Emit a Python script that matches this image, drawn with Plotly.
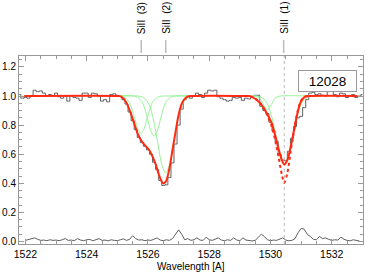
import numpy as np
import plotly.graph_objects as go

# ---------------- data ----------------
obs_start, obs_step = 1521.8, 0.1
obs_flux = [
    1.01, 0.985, 0.99, 0.985, 1.00, 1.04, 1.03, 1.035, 1.02, 1.00,
    1.01, 1.00, 1.02, 0.995, 0.985, 1.00, 0.965, 1.00, 0.99, 0.985,
    0.97, 1.02, 1.02, 0.99, 1.02, 1.015, 1.00, 0.965, 0.975, 0.96,
    1.01, 1.015, 1.005, 1.00, 0.975, 0.945, 0.89, 0.83, 0.77, 0.715,
    0.68, 0.655, 0.63, 0.60, 0.545, 0.495, 0.42, 0.385, 0.39, 0.44,
    0.54, 0.67, 0.80, 0.91, 0.975, 1.00, 0.985, 1.00, 1.02, 1.01,
    0.99, 1.02, 1.04, 1.035, 1.04, 0.995, 0.985, 0.975, 0.965, 0.97,
    0.99, 0.985, 0.99, 0.97, 0.985, 0.98, 0.99, 1.005, 1.005, 0.93,
    0.90, 0.88, 0.82, 0.76, 0.69, 0.60, 0.56, 0.555, 0.62, 0.71,
    0.79, 0.85, 0.86, 0.92, 0.975, 1.02, 1.025, 1.01, 1.015, 1.005,
    1.00, 1.03, 1.035, 1.01, 0.995, 1.02, 1.015, 0.99, 1.00, 1.01,
    0.99, 1.00, 1.01,
]

err_start, err_step = 1522.0, 0.1
err_flux = [
    0.008, 0.012, 0.02, 0.025, 0.015, 0.008, 0.01, 0.006, 0.012, 0.008,
    0.01, 0.006, 0.012, 0.02, 0.008, 0.01, 0.006, 0.02, 0.01, 0.006,
    0.012, 0.015, 0.005, 0.012, 0.02, 0.008, 0.01, 0.005, 0.012, 0.008,
    0.006, 0.012, 0.018, 0.008, 0.015, 0.04, 0.02, 0.01, 0.012, 0.006,
    0.01, 0.008, 0.015, 0.025, 0.01, 0.006, 0.012, 0.008, 0.02, 0.05,
    0.08, 0.05, 0.012, 0.02, 0.008, 0.012, 0.025, 0.01, 0.008, 0.03,
    0.012, 0.008, 0.015, 0.025, 0.01, 0.006, 0.012, 0.008, 0.025, 0.01,
    0.006, 0.025, 0.01, 0.005, 0.004, 0.008, 0.03, 0.05, 0.035, 0.012,
    0.006, 0.01, 0.008, 0.015, 0.025, 0.01, 0.005, 0.008, 0.02, 0.06,
    0.09, 0.085, 0.05, 0.035, 0.015, 0.012, 0.035, 0.02, 0.025, 0.015,
    0.008, 0.012, 0.01, 0.03, 0.015, 0.008, 0.005, 0.012, 0.006, 0.004,
]

fit_wave = [1521.96, 1525.00, 1525.11, 1525.28, 1525.44, 1525.55, 1525.66, 1525.77,
            1525.91, 1526.04, 1526.15, 1526.26, 1526.36, 1526.49, 1526.58, 1526.69,
            1526.80, 1526.91, 1527.00, 1527.12, 1527.29, 1527.45, 1529.20, 1529.33,
            1529.55, 1529.71, 1529.88, 1530.04, 1530.15, 1530.26, 1530.37, 1530.45,
            1530.55, 1530.66, 1530.77, 1530.88, 1530.99, 1531.13, 1531.30, 1532.84]
fit_flux = [1.0, 1.0, 0.998, 0.961, 0.881, 0.812, 0.743, 0.698,
            0.659, 0.629, 0.583, 0.526, 0.457, 0.400, 0.411, 0.491,
            0.629, 0.766, 0.870, 0.955, 0.995, 1.0, 1.0, 0.999,
            0.973, 0.938, 0.881, 0.812, 0.732, 0.640, 0.560, 0.530,
            0.560, 0.652, 0.766, 0.881, 0.961, 0.995, 1.0, 1.0]

alt_wave = [1529.33, 1529.55, 1529.71, 1529.88, 1530.04, 1530.15, 1530.26,
            1530.37, 1530.45, 1530.55, 1530.66, 1530.77, 1530.88, 1530.99, 1531.13, 1531.30]
alt_flux = [0.999, 0.975, 0.94, 0.875, 0.79, 0.70, 0.585,
            0.46, 0.404, 0.47, 0.62, 0.765, 0.89, 0.965, 0.996, 1.0]

compA_wave = [1525.03, 1525.17, 1525.37, 1525.47, 1525.57, 1525.67, 1525.77, 1525.87,
              1525.97, 1526.07, 1526.17, 1526.37, 1526.57, 1527.35]
compA_flux = [1.0, 0.997, 0.965, 0.916, 0.844, 0.773, 0.743, 0.773,
              0.844, 0.916, 0.965, 0.997, 1.0, 1.0]

compB_wave = [1525.03, 1525.60, 1525.80, 1525.90, 1526.00, 1526.10, 1526.20, 1526.30,
              1526.40, 1526.50, 1526.60, 1526.80, 1527.35]
compB_flux = [1.0, 0.997, 0.963, 0.911, 0.833, 0.757, 0.725, 0.757,
              0.833, 0.911, 0.963, 0.997, 1.0]

compC_wave = [1525.03, 1525.67, 1525.80, 1525.93, 1526.06, 1526.19, 1526.32, 1526.45,
              1526.58, 1526.71, 1526.84, 1526.97, 1527.10, 1527.23, 1527.35]
compC_flux = [1.0, 1.0, 0.994, 0.977, 0.928, 0.828, 0.678, 0.532,
              0.470, 0.532, 0.678, 0.828, 0.928, 0.977, 0.994]

compD_wave = [1529.33, 1529.51, 1529.64, 1529.77, 1529.90, 1530.03, 1530.16, 1530.29, 1531.25]
compD_flux = [1.0, 0.999, 0.987, 0.942, 0.904, 0.942, 0.987, 0.999, 1.0]

compE_wave = [1529.33, 1529.52, 1529.65, 1529.79, 1529.92, 1530.05, 1530.185, 1530.32,
              1530.45, 1530.58, 1530.715, 1530.85, 1530.98, 1531.11, 1531.25]
compE_flux = [1.0, 1.0, 0.995, 0.979, 0.936, 0.850, 0.715, 0.583,
              0.530, 0.583, 0.715, 0.850, 0.936, 0.979, 0.995]

line_labels = ["SiII  (3)", "SiII  (2)", "SiII  (1)"]
line_waves = [1525.78, 1526.58, 1530.43]
ref_wave = 1530.45
id_label = "12028"
x_ticks = [1522, 1524, 1526, 1528, 1530, 1532]
y_ticks = [0.0, 0.2, 0.4, 0.6, 0.8, 1.0, 1.2]

# ---------------- figure ----------------
FONT = "Liberation Sans, Arial, Helvetica, sans-serif"
GREY = "#5f5f5f"
RED = "#ff2a12"
GREEN = "#99f299"
AXIS = "#999999"

obs_wave = obs_start + obs_step * np.arange(len(obs_flux))
err_wave = err_start + err_step * np.arange(len(err_flux))

fig = go.Figure()
fig.add_trace(go.Scatter(x=obs_wave, y=obs_flux, mode="lines", line_shape="hvh",
                         line=dict(color=GREY, width=1)))
fig.add_trace(go.Scatter(x=err_wave, y=err_flux, mode="lines",
                         line=dict(color=GREY, width=1)))
for w, f in [(compA_wave, compA_flux), (compB_wave, compB_flux), (compC_wave, compC_flux),
             (compD_wave, compD_flux), (compE_wave, compE_flux)]:
    fig.add_trace(go.Scatter(x=w, y=f, mode="lines", line_shape="spline",
                             line=dict(color=GREEN, width=1, smoothing=0.8)))
fig.add_trace(go.Scatter(x=alt_wave, y=alt_flux, mode="lines", line_shape="spline",
                         line=dict(color=RED, width=2, dash="3px,3px", smoothing=0.8)))
fig.add_trace(go.Scatter(x=fit_wave, y=fit_flux, mode="lines", line_shape="spline",
                         line=dict(color=RED, width=2, smoothing=0.8)))

fig.add_shape(type="line", xref="x", yref="paper", x0=ref_wave, x1=ref_wave, y0=0, y1=1,
              line=dict(color="#bbbbbb", width=1, dash="dot"), layer="below")

for lab, w in zip(line_labels, line_waves):
    fig.add_shape(type="line", xref="x", yref="paper", x0=w, x1=w, y0=1.016, y1=1.085,
                  line=dict(color="#bbbbbb", width=1.5))
    fig.add_annotation(x=w, y=1.106, xref="x", yref="paper", text=lab, textangle=-90,
                       showarrow=False, xanchor="center", yanchor="bottom",
                       font=dict(family=FONT, size=10, color="#000000"))

fig.add_annotation(x=1531.85, y=1.10, xref="x", yref="y", text=id_label, showarrow=False,
                   xanchor="center", yanchor="middle", width=55, height=18,
                   bordercolor="#999999", borderwidth=1, bgcolor="white",
                   font=dict(family=FONT, size=13.5, color="#000000"))

fig.add_annotation(x=0.5, y=-0.122, xref="paper", yref="paper", text="Wavelength [A]",
                   showarrow=False, xanchor="center", yanchor="middle",
                   font=dict(family=FONT, size=10, color="#000000"))

axis_common = dict(showgrid=False, zeroline=False, showline=True, linecolor=AXIS,
                   linewidth=1, mirror="allticks", ticks="inside", tickcolor=AXIS,
                   ticklen=5, automargin=False)
fig.update_xaxes(range=[1521.79, 1533.02], tickvals=x_ticks,
                 tickfont=dict(family=FONT, size=10.5, color="#000000"),
                 minor=dict(dtick=0.5, ticks="inside", ticklen=3, tickcolor=AXIS),
                 **axis_common)
fig.update_yaxes(range=[-0.017, 1.275], tickvals=y_ticks, tickformat=".1f",
                 tickfont=dict(family=FONT, size=10, color="#000000"),
                 minor=dict(dtick=0.05, ticks="inside", ticklen=3, tickcolor=AXIS),
                 **axis_common)

fig.update_layout(width=365, height=275, showlegend=False,
                  margin=dict(l=19, r=2, t=56, b=31, autoexpand=False),
                  paper_bgcolor="white", plot_bgcolor="white",
                  font=dict(family=FONT))

fig.write_html("out.html", config={"displayModeBar": False},
               post_script="document.body.style.margin='0';document.body.style.overflow='hidden';")
